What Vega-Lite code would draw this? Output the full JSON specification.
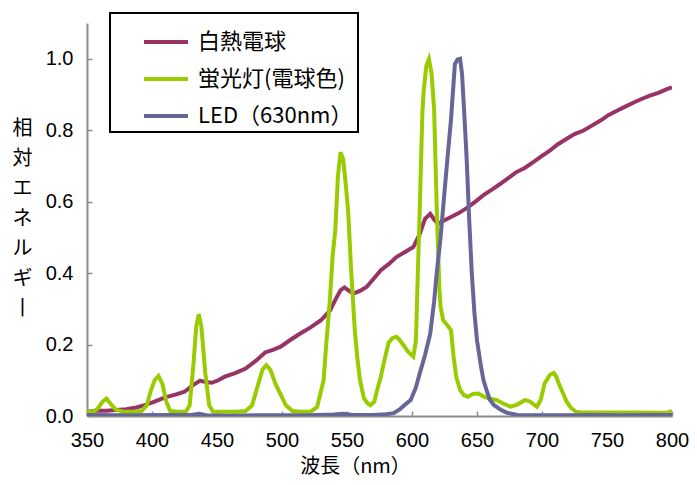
{
  "$schema": "https://vega.github.io/schema/vega-lite/v6.json",
  "width": 585,
  "height": 393,
  "autosize": {"type": "none"},
  "padding": {"left": 87, "top": 23, "right": 25, "bottom": 69},
  "background": "white",
  "config": {
    "view": {"stroke": null},
    "font": "Liberation Sans",
    "axis": {"grid": false, "domainColor": "#8c8c8c", "domainWidth": 2, "tickColor": "#8c8c8c", "tickWidth": 1.5, "tickSize": -5, "labelColor": "black", "labelFontSize": 20, "labelFont": "Liberation Sans", "titleFont": "Noto Sans CJK JP", "titleFontSize": 20, "titleFontWeight": "normal", "titleColor": "black"},
    "legend": {"orient": "none", "legendX": 23, "legendY": -10, "strokeColor": "black", "strokeWidth": 2, "padding": 5, "symbolType": "stroke", "symbolSize": 1936, "symbolStrokeWidth": 4, "labelFontSize": 22, "labelFont": "Noto Sans CJK JP", "labelColor": "black", "rowPadding": 2, "symbolOffset": 27, "labelOffset": 8, "labelLimit": 300}
  },
  "data": {"values": [
    {"s":"白熱電球","nm":350,"v":0.012},{"s":"白熱電球","nm":358,"v":0.015},{"s":"白熱電球","nm":365,"v":0.015},{"s":"白熱電球","nm":372,"v":0.017},{"s":"白熱電球","nm":380,"v":0.019},{"s":"白熱電球","nm":388,"v":0.024},{"s":"白熱電球","nm":395,"v":0.031},{"s":"白熱電球","nm":402,"v":0.04},{"s":"白熱電球","nm":410,"v":0.052},{"s":"白熱電球","nm":418,"v":0.06},{"s":"白熱電球","nm":425,"v":0.068},{"s":"白熱電球","nm":431,"v":0.085},{"s":"白熱電球","nm":437,"v":0.099},{"s":"白熱電球","nm":441,"v":0.095},{"s":"白熱電球","nm":446,"v":0.093},{"s":"白熱電球","nm":451,"v":0.1},{"s":"白熱電球","nm":456,"v":0.11},{"s":"白熱電球","nm":464,"v":0.12},{"s":"白熱電球","nm":472,"v":0.133},{"s":"白熱電球","nm":480,"v":0.155},{"s":"白熱電球","nm":487,"v":0.178},{"s":"白熱電球","nm":493,"v":0.185},{"s":"白熱電球","nm":499,"v":0.194},{"s":"白熱電球","nm":506,"v":0.212},{"s":"白熱電球","nm":514,"v":0.231},{"s":"白熱電球","nm":522,"v":0.248},{"s":"白熱電球","nm":530,"v":0.268},{"s":"白熱電球","nm":537,"v":0.296},{"s":"白熱電球","nm":541,"v":0.325},{"s":"白熱電球","nm":545,"v":0.352},{"s":"白熱電球","nm":548,"v":0.36},{"s":"白熱電球","nm":551,"v":0.352},{"s":"白熱電球","nm":555,"v":0.343},{"s":"白熱電球","nm":560,"v":0.35},{"s":"白熱電球","nm":565,"v":0.361},{"s":"白熱電球","nm":570,"v":0.382},{"s":"白熱電球","nm":576,"v":0.408},{"s":"白熱電球","nm":582,"v":0.425},{"s":"白熱電球","nm":588,"v":0.445},{"s":"白熱電球","nm":595,"v":0.46},{"s":"白熱電球","nm":601,"v":0.473},{"s":"白熱電球","nm":606,"v":0.51},{"s":"白熱電球","nm":610,"v":0.552},{"s":"白熱電球","nm":614,"v":0.566},{"s":"白熱電球","nm":617,"v":0.55},{"s":"白熱電球","nm":620,"v":0.538},{"s":"白熱電球","nm":625,"v":0.548},{"s":"白熱電球","nm":630,"v":0.557},{"s":"白熱電球","nm":636,"v":0.568},{"s":"白熱電球","nm":642,"v":0.582},{"s":"白熱電球","nm":648,"v":0.598},{"s":"白熱電球","nm":655,"v":0.618},{"s":"白熱電球","nm":662,"v":0.635},{"s":"白熱電球","nm":668,"v":0.65},{"s":"白熱電球","nm":674,"v":0.666},{"s":"白熱電球","nm":680,"v":0.682},{"s":"白熱電球","nm":687,"v":0.695},{"s":"白熱電球","nm":693,"v":0.71},{"s":"白熱電球","nm":700,"v":0.728},{"s":"白熱電球","nm":706,"v":0.743},{"s":"白熱電球","nm":712,"v":0.76},{"s":"白熱電球","nm":719,"v":0.776},{"s":"白熱電球","nm":725,"v":0.789},{"s":"白熱電球","nm":732,"v":0.799},{"s":"白熱電球","nm":738,"v":0.812},{"s":"白熱電球","nm":745,"v":0.827},{"s":"白熱電球","nm":751,"v":0.842},{"s":"白熱電球","nm":758,"v":0.855},{"s":"白熱電球","nm":764,"v":0.866},{"s":"白熱電球","nm":771,"v":0.878},{"s":"白熱電球","nm":777,"v":0.888},{"s":"白熱電球","nm":783,"v":0.897},{"s":"白熱電球","nm":790,"v":0.905},{"s":"白熱電球","nm":796,"v":0.915},{"s":"白熱電球","nm":800,"v":0.92},
    {"s":"蛍光灯(電球色)","nm":350,"v":0.012},{"s":"蛍光灯(電球色)","nm":355,"v":0.012},{"s":"蛍光灯(電球色)","nm":358,"v":0.02},{"s":"蛍光灯(電球色)","nm":362,"v":0.04},{"s":"蛍光灯(電球色)","nm":365,"v":0.049},{"s":"蛍光灯(電球色)","nm":368,"v":0.035},{"s":"蛍光灯(電球色)","nm":372,"v":0.018},{"s":"蛍光灯(電球色)","nm":378,"v":0.012},{"s":"蛍光灯(電球色)","nm":385,"v":0.012},{"s":"蛍光灯(電球色)","nm":392,"v":0.014},{"s":"蛍光灯(電球色)","nm":396,"v":0.03},{"s":"蛍光灯(電球色)","nm":399,"v":0.07},{"s":"蛍光灯(電球色)","nm":402,"v":0.1},{"s":"蛍光灯(電球色)","nm":405,"v":0.112},{"s":"蛍光灯(電球色)","nm":408,"v":0.09},{"s":"蛍光灯(電球色)","nm":411,"v":0.04},{"s":"蛍光灯(電球色)","nm":414,"v":0.014},{"s":"蛍光灯(電球色)","nm":420,"v":0.012},{"s":"蛍光灯(電球色)","nm":426,"v":0.012},{"s":"蛍光灯(電球色)","nm":429,"v":0.03},{"s":"蛍光灯(電球色)","nm":432,"v":0.15},{"s":"蛍光灯(電球色)","nm":434,"v":0.25},{"s":"蛍光灯(電球色)","nm":436,"v":0.285},{"s":"蛍光灯(電球色)","nm":438,"v":0.25},{"s":"蛍光灯(電球色)","nm":441,"v":0.12},{"s":"蛍光灯(電球色)","nm":444,"v":0.03},{"s":"蛍光灯(電球色)","nm":447,"v":0.012},{"s":"蛍光灯(電球色)","nm":455,"v":0.012},{"s":"蛍光灯(電球色)","nm":465,"v":0.012},{"s":"蛍光灯(電球色)","nm":472,"v":0.014},{"s":"蛍光灯(電球色)","nm":477,"v":0.03},{"s":"蛍光灯(電球色)","nm":481,"v":0.08},{"s":"蛍光灯(電球色)","nm":485,"v":0.13},{"s":"蛍光灯(電球色)","nm":488,"v":0.142},{"s":"蛍光灯(電球色)","nm":491,"v":0.13},{"s":"蛍光灯(電球色)","nm":495,"v":0.09},{"s":"蛍光灯(電球色)","nm":499,"v":0.06},{"s":"蛍光灯(電球色)","nm":503,"v":0.03},{"s":"蛍光灯(電球色)","nm":508,"v":0.014},{"s":"蛍光灯(電球色)","nm":515,"v":0.012},{"s":"蛍光灯(電球色)","nm":522,"v":0.012},{"s":"蛍光灯(電球色)","nm":527,"v":0.025},{"s":"蛍光灯(電球色)","nm":530,"v":0.07},{"s":"蛍光灯(電球色)","nm":532,"v":0.1},{"s":"蛍光灯(電球色)","nm":534,"v":0.2},{"s":"蛍光灯(電球色)","nm":537,"v":0.333},{"s":"蛍光灯(電球色)","nm":539,"v":0.45},{"s":"蛍光灯(電球色)","nm":541,"v":0.52},{"s":"蛍光灯(電球色)","nm":543,"v":0.67},{"s":"蛍光灯(電球色)","nm":545,"v":0.738},{"s":"蛍光灯(電球色)","nm":547,"v":0.72},{"s":"蛍光灯(電球色)","nm":549,"v":0.65},{"s":"蛍光灯(電球色)","nm":551,"v":0.567},{"s":"蛍光灯(電球色)","nm":553,"v":0.42},{"s":"蛍光灯(電球色)","nm":556,"v":0.24},{"s":"蛍光灯(電球色)","nm":558,"v":0.16},{"s":"蛍光灯(電球色)","nm":560,"v":0.1},{"s":"蛍光灯(電球色)","nm":563,"v":0.05},{"s":"蛍光灯(電球色)","nm":566,"v":0.035},{"s":"蛍光灯(電球色)","nm":568,"v":0.03},{"s":"蛍光灯(電球色)","nm":571,"v":0.04},{"s":"蛍光灯(電球色)","nm":573,"v":0.07},{"s":"蛍光灯(電球色)","nm":576,"v":0.11},{"s":"蛍光灯(電球色)","nm":579,"v":0.16},{"s":"蛍光灯(電球色)","nm":582,"v":0.205},{"s":"蛍光灯(電球色)","nm":585,"v":0.218},{"s":"蛍光灯(電球色)","nm":588,"v":0.222},{"s":"蛍光灯(電球色)","nm":590,"v":0.215},{"s":"蛍光灯(電球色)","nm":593,"v":0.2},{"s":"蛍光灯(電球色)","nm":597,"v":0.18},{"s":"蛍光灯(電球色)","nm":601,"v":0.166},{"s":"蛍光灯(電球色)","nm":603,"v":0.21},{"s":"蛍光灯(電球色)","nm":604.5,"v":0.4},{"s":"蛍光灯(電球色)","nm":606,"v":0.585},{"s":"蛍光灯(電球色)","nm":608,"v":0.85},{"s":"蛍光灯(電球色)","nm":609,"v":0.91},{"s":"蛍光灯(電球色)","nm":611,"v":0.98},{"s":"蛍光灯(電球色)","nm":613,"v":0.999},{"s":"蛍光灯(電球色)","nm":615,"v":0.96},{"s":"蛍光灯(電球色)","nm":617,"v":0.86},{"s":"蛍光灯(電球色)","nm":619,"v":0.585},{"s":"蛍光灯(電球色)","nm":621,"v":0.36},{"s":"蛍光灯(電球色)","nm":622,"v":0.305},{"s":"蛍光灯(電球色)","nm":624,"v":0.268},{"s":"蛍光灯(電球色)","nm":627,"v":0.255},{"s":"蛍光灯(電球色)","nm":630,"v":0.24},{"s":"蛍光灯(電球色)","nm":632,"v":0.166},{"s":"蛍光灯(電球色)","nm":634,"v":0.11},{"s":"蛍光灯(電球色)","nm":637,"v":0.073},{"s":"蛍光灯(電球色)","nm":640,"v":0.058},{"s":"蛍光灯(電球色)","nm":643,"v":0.054},{"s":"蛍光灯(電球色)","nm":647,"v":0.062},{"s":"蛍光灯(電球色)","nm":651,"v":0.063},{"s":"蛍光灯(電球色)","nm":655,"v":0.055},{"s":"蛍光灯(電球色)","nm":659,"v":0.049},{"s":"蛍光灯(電球色)","nm":665,"v":0.045},{"s":"蛍光灯(電球色)","nm":670,"v":0.035},{"s":"蛍光灯(電球色)","nm":676,"v":0.026},{"s":"蛍光灯(電球色)","nm":681,"v":0.032},{"s":"蛍光灯(電球色)","nm":687,"v":0.045},{"s":"蛍光灯(電球色)","nm":691,"v":0.04},{"s":"蛍光灯(電球色)","nm":696,"v":0.026},{"s":"蛍光灯(電球色)","nm":699,"v":0.045},{"s":"蛍光灯(電球色)","nm":702,"v":0.091},{"s":"蛍光灯(電球色)","nm":706,"v":0.115},{"s":"蛍光灯(電球色)","nm":709,"v":0.121},{"s":"蛍光灯(電球色)","nm":711,"v":0.11},{"s":"蛍光灯(電球色)","nm":713,"v":0.09},{"s":"蛍光灯(電球色)","nm":716,"v":0.065},{"s":"蛍光灯(電球色)","nm":719,"v":0.04},{"s":"蛍光灯(電球色)","nm":722,"v":0.024},{"s":"蛍光灯(電球色)","nm":726,"v":0.012},{"s":"蛍光灯(電球色)","nm":730,"v":0.01},{"s":"蛍光灯(電球色)","nm":750,"v":0.01},{"s":"蛍光灯(電球色)","nm":770,"v":0.01},{"s":"蛍光灯(電球色)","nm":790,"v":0.009},{"s":"蛍光灯(電球色)","nm":797,"v":0.01},{"s":"蛍光灯(電球色)","nm":800,"v":0.014},
    {"s":"LED（630nm）","nm":350,"v":0.003},{"s":"LED（630nm）","nm":380,"v":0.002},{"s":"LED（630nm）","nm":410,"v":0.003},{"s":"LED（630nm）","nm":430,"v":0.003},{"s":"LED（630nm）","nm":436,"v":0.006},{"s":"LED（630nm）","nm":442,"v":0.002},{"s":"LED（630nm）","nm":460,"v":0.001},{"s":"LED（630nm）","nm":480,"v":0.002},{"s":"LED（630nm）","nm":500,"v":0.002},{"s":"LED（630nm）","nm":520,"v":0.002},{"s":"LED（630nm）","nm":540,"v":0.004},{"s":"LED（630nm）","nm":547,"v":0.006},{"s":"LED（630nm）","nm":555,"v":0.003},{"s":"LED（630nm）","nm":570,"v":0.003},{"s":"LED（630nm）","nm":580,"v":0.005},{"s":"LED（630nm）","nm":586,"v":0.008},{"s":"LED（630nm）","nm":591,"v":0.02},{"s":"LED（630nm）","nm":595,"v":0.033},{"s":"LED（630nm）","nm":599,"v":0.045},{"s":"LED（630nm）","nm":603,"v":0.08},{"s":"LED（630nm）","nm":606,"v":0.12},{"s":"LED（630nm）","nm":610,"v":0.17},{"s":"LED（630nm）","nm":614,"v":0.23},{"s":"LED（630nm）","nm":617,"v":0.32},{"s":"LED（630nm）","nm":619,"v":0.4},{"s":"LED（630nm）","nm":622,"v":0.5},{"s":"LED（630nm）","nm":624,"v":0.585},{"s":"LED（630nm）","nm":627,"v":0.71},{"s":"LED（630nm）","nm":630,"v":0.83},{"s":"LED（630nm）","nm":633,"v":0.985},{"s":"LED（630nm）","nm":635,"v":0.998},{"s":"LED（630nm）","nm":637,"v":1.0},{"s":"LED（630nm）","nm":638.5,"v":0.957},{"s":"LED（630nm）","nm":640,"v":0.86},{"s":"LED（630nm）","nm":642,"v":0.724},{"s":"LED（630nm）","nm":644,"v":0.55},{"s":"LED（630nm）","nm":646,"v":0.4},{"s":"LED（630nm）","nm":648,"v":0.29},{"s":"LED（630nm）","nm":650,"v":0.212},{"s":"LED（630nm）","nm":653,"v":0.14},{"s":"LED（630nm）","nm":655,"v":0.1},{"s":"LED（630nm）","nm":658,"v":0.065},{"s":"LED（630nm）","nm":660,"v":0.045},{"s":"LED（630nm）","nm":663,"v":0.031},{"s":"LED（630nm）","nm":668,"v":0.018},{"s":"LED（630nm）","nm":673,"v":0.009},{"s":"LED（630nm）","nm":681,"v":0.003},{"s":"LED（630nm）","nm":700,"v":0.002},{"s":"LED（630nm）","nm":720,"v":0.002},{"s":"LED（630nm）","nm":740,"v":0.003},{"s":"LED（630nm）","nm":760,"v":0.002},{"s":"LED（630nm）","nm":780,"v":0.003},{"s":"LED（630nm）","nm":800,"v":0.003}
  ]},
  "mark": {"type": "line", "strokeWidth": 4, "clip": true},
  "encoding": {
    "x": {"field": "nm", "type": "quantitative", "scale": {"domain": [350, 800], "nice": false},
      "axis": {"values": [350,400,450,500,550,600,650,700,750,800], "title": "波長（nm）", "labelPadding": 19, "titleX": 268, "titleY": 50, "titleAlign": "center", "titleBaseline": "middle", "labelFlush": false}},
    "y": {"field": "v", "type": "quantitative", "scale": {"domain": [0, 1.1], "nice": false},
      "axis": {"values": [0,0.2,0.4,0.6,0.8,1.0], "format": ".1f", "labelPadding": 19, "title": ["相","対","エ","ネ","ル","ギ","丨"], "titleAngle": 0, "titleX": -65, "titleY": 95, "titleAlign": "center", "titleBaseline": "top", "titleLineHeight": 30, "labelFlush": false}},
    "color": {"field": "s", "type": "nominal", "sort": null,
      "scale": {"domain": ["白熱電球","蛍光灯(電球色)","LED（630nm）"], "range": ["#993366","#99cc00","#666699"]},
      "legend": {"title": null}}
  }
}
